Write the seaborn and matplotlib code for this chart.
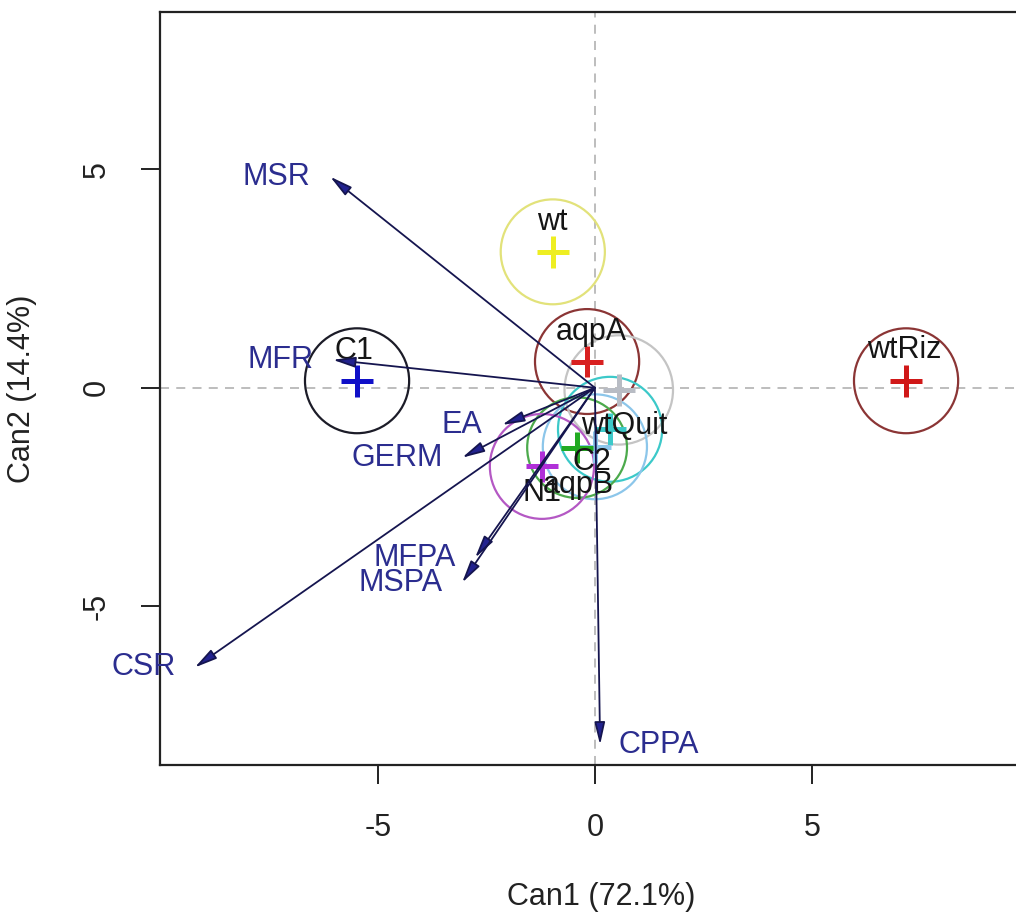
"""Canonical discriminant plot: group means and structure vectors"""

import matplotlib

matplotlib.use("Agg")
import matplotlib.pyplot as plt
import pandas as pd
import seaborn as sns
from matplotlib.patches import Circle

# group means on the two canonical axes
groups = ["C1", "wt", "aqpA", "wtRiz", "grey", "wtQuit", "aqpB", "C2", "N1"]
group_labels = ["C1", "wt", "aqpA", "wtRiz", "", "wtQuit", "aqpB", "C2", "N1"]
can1 = [-5.48, -0.97, -0.18, 7.17, 0.55, 0.35, 0.00, -0.41, -1.22]
can2 = [0.16, 3.11, 0.60, 0.16, -0.05, -0.95, -1.35, -1.37, -1.80]
radius = [1.2, 1.2, 1.2, 1.2, 1.25, 1.2, 1.2, 1.15, 1.2]

# structure coefficients (scaled vectors)
variables = ["MSR", "MFR", "EA", "GERM", "MFPA", "MSPA", "CSR", "CPPA"]
vec1 = [-6.10, -6.04, -2.14, -3.06, -2.76, -3.06, -9.22, 0.12]
vec2 = [4.83, 0.64, -0.85, -1.60, -3.89, -4.46, -6.40, -8.17]

circle_colors = ["#1c1c28", "#e2e27a", "#8b3535", "#8b3535", "#c4c4c4",
                 "#3cc9c9", "#8cc6ea", "#4caa4c", "#b458c4"]
cross_colors = ["#1010c8", "#eeee22", "#d82020", "#d01818", "#b8bcc4",
                "#3cc9c9", "#8cc6ea", "#22aa22", "#b030d8"]
# label offsets from the mean, in pixels (dx, dy)
label_offsets = [(-3, 30), (0, 30), (4, 30), (-2, 31), (0, 0),
                 (14, 3), (-17, -38), (15, -14), (0, -27)]

df = pd.DataFrame({"group": groups, "can1": can1, "can2": can2})

sns.set_style("white")
plt.rcParams["font.family"] = ["Liberation Sans", "DejaVu Sans"]
plt.rcParams["axes.unicode_minus"] = False

fig = plt.figure(figsize=(10.16, 9.15), dpi=100)
ax = fig.add_axes([0.1575, 0.164, 0.868, 0.823])
ax.set_xlim(-10.02, 10.3)
ax.set_ylim(-8.63, 8.6)

ax.axhline(0, color="#b8b8b8", ls=(0, (5, 4)), lw=1.3, zorder=0)
ax.axvline(0, color="#b8b8b8", ls=(0, (5, 4)), lw=1.3, zorder=0)

for x, y, r, col in zip(can1, can2, radius, circle_colors):
    ax.add_patch(Circle((x, y), r, fill=False, ec=col, lw=1.6, zorder=2))

sns.scatterplot(
    data=df, x="can1", y="can2", hue="group", hue_order=groups,
    palette=cross_colors, marker="+", s=520, linewidth=3.6,
    legend=False, ax=ax, zorder=3,
)

for lab, x, y, (dx, dy) in zip(group_labels, can1, can2, label_offsets):
    if not lab:
        continue
    ax.annotate(lab, xy=(x, y), xytext=(dx * 0.72, dy * 0.72),
                textcoords="offset points", ha="center", va="center",
                fontsize=22, color="#151515", zorder=4)

for name, x, y in zip(variables, vec1, vec2):
    ax.annotate(
        "", xy=(x, y), xytext=(0, 0),
        arrowprops=dict(arrowstyle="-|>,head_length=0.85,head_width=0.2",
                        color="#15154f", fc="#22228f", lw=1.3,
                        shrinkA=0, shrinkB=0, mutation_scale=16),
        zorder=5,
    )
    left = x < 0
    ax.annotate(name, xy=(x, y), xytext=(-14 if left else 13, 0),
                textcoords="offset points", ha="right" if left else "left",
                va="center", fontsize=22, color="#2b2d8f", zorder=6)

ax.set_xticks([-5, 0, 5])
ax.set_yticks([-5, 0, 5])
ax.set_yticklabels(["-5", "0", "5"], rotation=90, va="center")
ax.tick_params(length=13.7, width=1.4, pad=21, labelsize=22,
               left=True, bottom=True, colors="#222222")
for side in ["left", "bottom", "top", "right"]:
    ax.spines[side].set_color("#222222")
    ax.spines[side].set_linewidth(1.6)

ax.set_xlabel("Can1 (72.1%)", fontsize=22, labelpad=28, color="#222222")
ax.set_ylabel("Can2 (14.4%)", fontsize=22, labelpad=32, color="#222222")

fig.savefig("out.png", dpi=100)
